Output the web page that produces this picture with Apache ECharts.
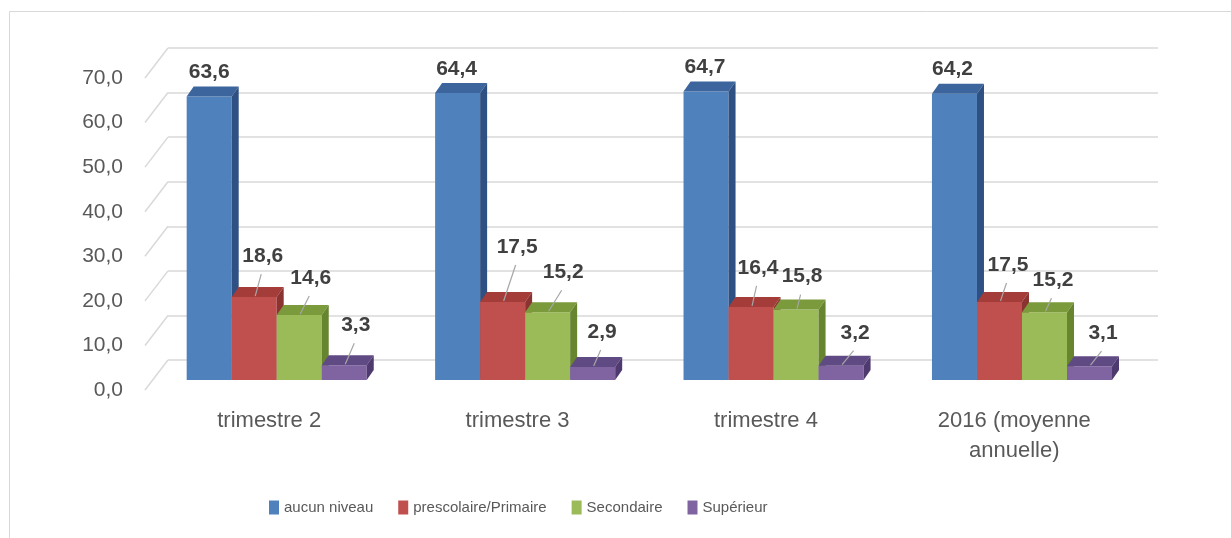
<!DOCTYPE html>
<html>
<head>
<meta charset="utf-8">
<script src="https://cdn.jsdelivr.net/npm/echarts@6/dist/echarts.min.js"></script>
<style>html,body{margin:0;padding:0;background:#fff}#c{width:1231px;height:538px}</style>
</head>
<body>
<div id="c"></div>
<script>
// ---- data ----
var categories = ['trimestre 2', 'trimestre 3', 'trimestre 4', '2016 (moyenne\nannuelle)'];
var seriesNames = ['aucun niveau', 'prescolaire/Primaire', 'Secondaire', 'Supérieur'];
var aucunNiveau = [63.6, 64.4, 64.7, 64.2];
var prescolairePrimaire = [18.6, 17.5, 16.4, 17.5];
var secondaire = [14.6, 15.2, 15.8, 15.2];
var superieur = [3.3, 2.9, 3.2, 3.1];
var yTicks = [0, 10, 20, 30, 40, 50, 60, 70];

// ---- styles / layout ----
var faceColors = [
  {front: '#4F81BD', top: '#3B659C', side: '#2F5082'},
  {front: '#C0504D', top: '#A43C39', side: '#8A3330'},
  {front: '#9BBB59', top: '#7B9A3C', side: '#67842F'},
  {front: '#8064A2', top: '#604A84', side: '#4E3A6E'}
];
// label offsets (dx, dy from bar top centre) per series per category
var labelShift = [
  [[0, -24], [-1, -24], [-1, -24], [-2, -25]],
  [[8.5, -41], [14.5, -55], [7, -39], [8.5, -37]],
  [[11.5, -37], [15.5, -40], [6, -33], [8.5, -32]],
  [[11.5, -40], [9.5, -35], [14, -33], [13.5, -33]]
];
var DX = 7, DY = 10;

var allValues = [aucunNiveau, prescolairePrimaire, secondaire, superieur];
function fmt(v) { return v.toFixed(1).replace('.', ','); }

function makeBarSeries(si) {
  var vals = allValues[si];
  var col = faceColors[si];
  return {
    type: 'custom',
    name: seriesNames[si],
    xAxisIndex: 1,
    yAxisIndex: 1,
    clip: false,
    itemStyle: {color: col.front},
    encode: {x: 0, y: 1},
    data: vals.map(function (v, i) { return [i, v]; }),
    renderItem: function (params, api) {
      var ci = api.value(0), v = api.value(1);
      var base = api.coord([ci, 0]);
      var top = api.coord([ci, v]);
      var band = api.size([1, 0])[0];
      var w = band * 0.1812;
      var x0 = base[0] - 2 * w + si * w;
      var by = base[1], ty = top[1];
      var cx = x0 + w / 2;
      var sh = labelShift[si][ci];
      var children = [
        {type: 'rect', shape: {x: x0, y: ty, width: w, height: by - ty}, style: {fill: col.front}},
        {type: 'polygon', shape: {points: [[x0, ty], [x0 + DX, ty - DY], [x0 + w + DX, ty - DY], [x0 + w, ty]]}, style: {fill: col.top}},
        {type: 'polygon', shape: {points: [[x0 + w, ty], [x0 + w + DX, ty - DY], [x0 + w + DX, by - DY], [x0 + w, by]]}, style: {fill: col.side}}
      ];
      if (si > 0) {
        children.push({type: 'line', shape: {x1: cx + 1, y1: ty - 1, x2: cx + sh[0] - 1.5, y2: ty + sh[1] + 18}, style: {stroke: '#A6A6A6', lineWidth: 1.2}});
      }
      children.push({type: 'text', style: {
        text: fmt(v), x: cx + sh[0], y: ty + sh[1], align: 'center', verticalAlign: 'middle',
        fill: '#404040', fontSize: 21, fontWeight: 'bold', fontFamily: 'Liberation Sans, Arial, sans-serif'
      }});
      return {type: 'group', children: children};
    }
  };
}

var series = [{
  type: 'custom',
  xAxisIndex: 2,
  yAxisIndex: 2,
  clip: false,
  silent: true,
  encode: {x: 0, y: 1},
  data: yTicks.map(function (t) { return [0, t]; }),
  renderItem: function (params, api) {
    var p = api.coord([0, api.value(1)]);
    return {type: 'line', shape: {x1: p[0] - 23, y1: p[1] + 30, x2: p[0], y2: p[1]}, style: {stroke: '#D9D9D9', lineWidth: 1.5}};
  }
}];
for (var s = 0; s < 4; s++) series.push(makeBarSeries(s));

var chart = echarts.init(document.getElementById('c'), null, {renderer: 'canvas'});
chart.setOption({
  animation: false,
  backgroundColor: '#fff',
  graphic: [{type: 'rect', silent: true, shape: {x: 9.5, y: 11.5, width: 1400, height: 700}, style: {fill: 'none', stroke: '#D9D9D9', lineWidth: 1}}],
  legend: {
    data: seriesNames,
    left: 269,
    top: 500,
    padding: 0,
    icon: 'rect',
    itemWidth: 10,
    itemHeight: 14,
    itemGap: 25,
    textStyle: {color: '#595959', fontSize: 15, fontFamily: 'Liberation Sans, Arial, sans-serif'}
  },
  grid: [
    {left: 145, right: 92.5, top: 78, bottom: 148},
    {left: 152.5, right: 84.8, top: 68, bottom: 158},
    {left: 168, right: 73, top: 48, bottom: 178}
  ],
  xAxis: [
    {type: 'category', gridIndex: 0, data: categories, axisLine: {show: false}, axisTick: {show: false},
      axisLabel: {color: '#595959', fontSize: 22, fontFamily: 'Liberation Sans, Arial, sans-serif', margin: 16, lineHeight: 30}},
    {type: 'category', gridIndex: 1, data: categories, show: false},
    {type: 'value', gridIndex: 2, min: 0, max: 1, show: false}
  ],
  yAxis: [
    {type: 'value', gridIndex: 0, min: 0, max: 70, interval: 10, axisLine: {show: false}, axisTick: {show: false}, splitLine: {show: false},
      axisLabel: {color: '#595959', fontSize: 21, fontFamily: 'Liberation Sans, Arial, sans-serif', margin: 22, formatter: function (v) { return fmt(v); }}},
    {type: 'value', gridIndex: 1, min: 0, max: 70, interval: 10, show: false},
    {type: 'value', gridIndex: 2, min: 0, max: 70, interval: 10, axisLine: {show: false}, axisTick: {show: false}, axisLabel: {show: false},
      splitLine: {show: true, lineStyle: {color: '#D9D9D9', width: 1.5}}}
  ],
  series: series
});
</script>
</body>
</html>
